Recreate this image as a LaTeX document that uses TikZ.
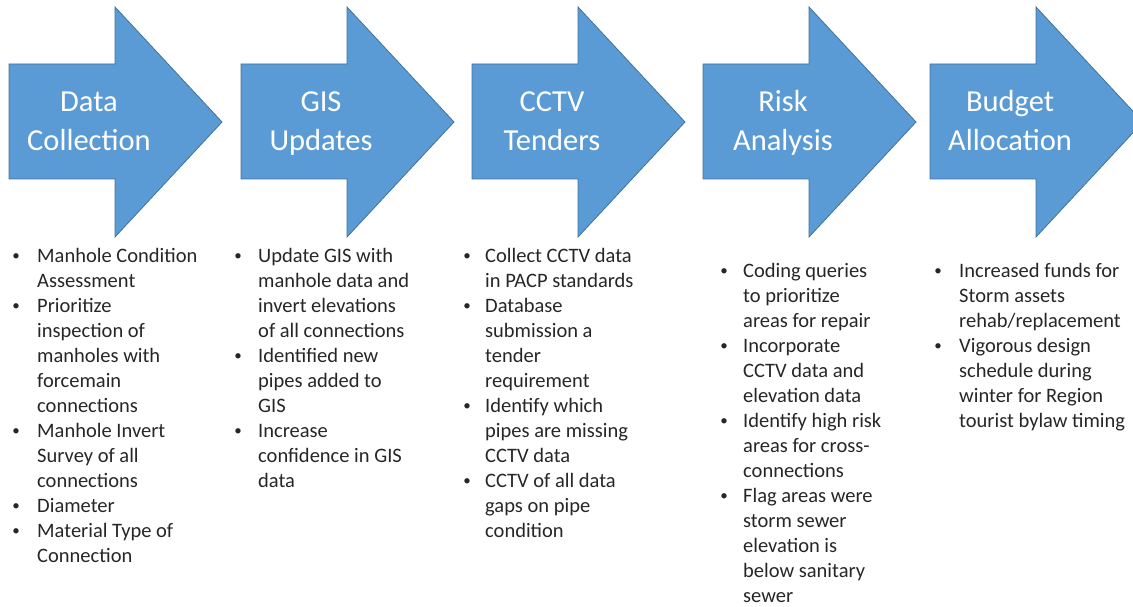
\documentclass[tikz,border=0pt]{standalone}
\usepackage{fontspec}
\setmainfont{Carlito}
\definecolor{stepblue}{HTML}{5B9BD5}
\definecolor{stepedge}{HTML}{41719C}
\definecolor{bodytext}{HTML}{262626}

% One column of bullet items: name, bullet x, text x, first baseline, list of flag/line
\newcommand\itemcolumn[5]{%
  \foreach \bul/\txt [count=\idx] in {#5}{%
    \node[itemline] (#1-\idx) at (#3,{#4+25*(\idx-1)}) {\txt};
    \ifnum\bul=1 \node[itemdot] (#1-dot\idx) at (#2,{#4+25*(\idx-1)}) {\raisebox{1.6pt}{•}};\fi
  }}

\begin{document}
\begin{tikzpicture}[x=1pt,y=-1pt,
  stagearrow/.style={fill=stepblue,draw=stepedge,line width=0.8pt,line join=miter},
  stagetitle/.style={anchor=base,inner sep=0pt,text=white,font=\fontsize{30.5}{38}\selectfont},
  itemline/.style={anchor=base west,inner sep=0pt,text=bodytext,font=\fontsize{20.5}{25}\selectfont},
  itemdot/.style={anchor=base,inner sep=0pt,text=bodytext,font=\fontsize{15}{25}\selectfont}]
\useasboundingbox (0,0) rectangle (1133,607);

% stage arrows (the last one runs past the right edge)
\begin{scope}
  \clip (0,0) rectangle (1133,607);
  \foreach \l in {9,241,472,703,930}{
    \draw[stagearrow] (\l,64) -- (\l+106,64) -- (\l+106,7) -- (\l+213,122)
      -- (\l+106,237) -- (\l+106,179) -- (\l,179) -- cycle;
  }
\end{scope}

% stage titles
\foreach \l/\ta/\tb [count=\k] in {9/Data/Collection, 241/GIS/Updates,
    472/CCTV/Tenders, 703/Risk/Analysis, 930/Budget/Allocation}{
  \node[stagetitle] (title\k a) at (\l+80,112) {\ta};
  \node[stagetitle] (title\k b) at (\l+80,150) {\tb};
}

% task lists under each stage
\itemcolumn{collect}{16}{37}{262}{1/Manhole Condition, 0/Assessment,
  1/Prioritize, 0/inspection of, 0/manholes with, 0/forcemain, 0/connections,
  1/Manhole Invert, 0/Survey of all, 0/connections,
  1/Diameter,
  1/Material Type of, 0/Connection}

\itemcolumn{gis}{238}{258}{262}{1/Update GIS with, 0/manhole data and,
  0/invert elevations, 0/of all connections,
  1/Identified new, 0/pipes added to, 0/GIS,
  1/Increase, 0/confidence in GIS, 0/data}

\itemcolumn{cctv}{467}{485}{262}{1/Collect CCTV data, 0/in PACP standards,
  1/Database, 0/submission a, 0/tender, 0/requirement,
  1/Identify which, 0/pipes are missing, 0/CCTV data,
  1/CCTV of all data, 0/gaps on pipe, 0/condition}

\itemcolumn{risk}{724}{743}{277}{1/Coding queries, 0/to prioritize,
  0/areas for repair,
  1/Incorporate, 0/CCTV data and, 0/elevation data,
  1/Identify high risk, 0/areas for cross-, 0/connections,
  1/Flag areas were, 0/storm sewer, 0/elevation is, 0/below sanitary, 0/sewer}

\itemcolumn{budget}{938}{959}{277}{1/Increased funds for, 0/Storm assets,
  0/{rehab/replacement},
  1/Vigorous design, 0/schedule during, 0/winter for Region,
  0/tourist bylaw timing}
\end{tikzpicture}
\end{document}
